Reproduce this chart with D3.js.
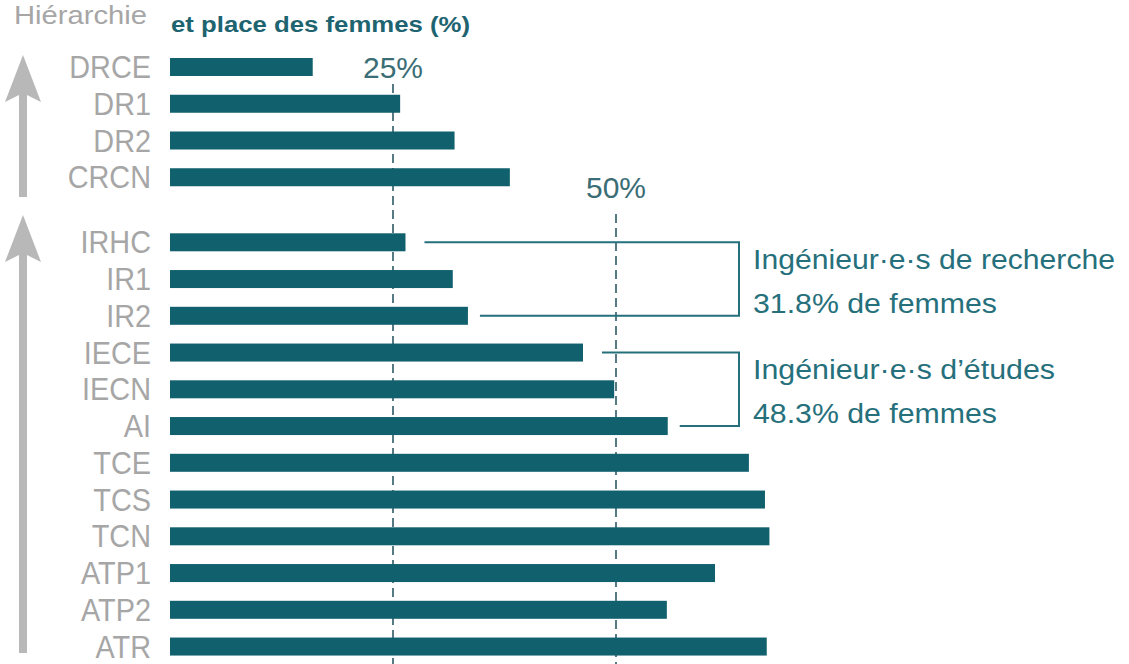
<!DOCTYPE html>
<html>
<head>
<meta charset="utf-8">
<script src="https://cdn.jsdelivr.net/npm/d3@7"></script>
<style>
  body { margin: 0; background: #fff; }
  text { font-family: "Liberation Sans Narrow", "Liberation Sans", Arial, sans-serif; }
</style>
</head>
<body>
<div id="container"></div>
<script>
// categories, du haut vers le bas
const groupeChercheurs = ["DRCE", "DR1", "DR2", "CRCN"];
const groupeITA = ["IRHC", "IR1", "IR2", "IECE", "IECN", "AI",
                   "TCE", "TCS", "TCN", "ATP1", "ATP2", "ATR"];
const valeursChercheurs = [16.0, 25.8, 31.9, 38.1];
const valeursITA = [26.4, 31.7, 33.4, 46.3, 49.8, 55.8,
                    64.9, 66.7, 67.2, 61.1, 55.7, 66.9];
const reperes = [25, 50];
const reperesLabels = ["25%", "50%"];
const annotations = [
  { de: "IRHC", a: "IR2", l1: "Ingénieur·e·s de recherche", l2: "31.8% de femmes" },
  { de: "IECE", a: "AI",  l1: "Ingénieur·e·s d’études",     l2: "48.3% de femmes" }
];

const WIDTH = 1129, HEIGHT = 664;
const TEAL = "#11606e", GRIS = "#a6a6a6", TEXTE = "#26707c";

const data = groupeChercheurs.map((c, i) => ({ cat: c, val: valeursChercheurs[i], idx: i }))
  .concat(groupeITA.map((c, i) => ({ cat: c, val: valeursITA[i], idx: i + 4.77 })));
const byCat = {};
data.forEach(d => byCat[d.cat] = d);

// police un peu condensée comme dans l'original
const condense = (sel, f) => sel.each(function() {
  const L = this.getComputedTextLength();
  d3.select(this).attr("textLength", L * f).attr("lengthAdjust", "spacingAndGlyphs");
});

const svg = d3.select("#container").append("svg")
    .attr("width", WIDTH).attr("height", HEIGHT);

const x = d3.scaleLinear().domain([0, 50]).range([170, 616]);
const y = d3.scaleLinear().domain([0, 1]).range([67, 103.75]);
const barH = 18;

// flèches de hiérarchie
const fleches = [[55, 197], [215, 653]];
fleches.forEach(([haut, bas]) => {
  svg.append("rect").attr("x", 19).attr("y", haut + 30).attr("width", 8).attr("height", bas - haut - 30).attr("fill", "#b8b8b8");
  svg.append("path")
    .attr("d", `M23,${haut} L41,${haut + 47} L23,${haut + 38} L5,${haut + 47} Z`)
    .attr("fill", "#b8b8b8");
});

// lignes de repère
const debutRepere = [84, 214];
svg.selectAll(".repere").data(reperes).join("line")
  .attr("class", "repere")
  .attr("x1", d => x(d)).attr("x2", d => x(d))
  .attr("y1", (d, i) => debutRepere[i]).attr("y2", HEIGHT)
  .attr("stroke", "#2f5a64").attr("stroke-width", 1.6)
  .attr("stroke-dasharray", "9,5");

svg.selectAll(".repereLabel").data(reperes).join("text")
  .attr("class", "repereLabel")
  .attr("x", d => x(d)).attr("y", (d, i) => [78, 198][i])
  .attr("text-anchor", "middle")
  .attr("font-size", 30).attr("fill", "#3a6d75")
  .attr("textLength", 60).attr("lengthAdjust", "spacingAndGlyphs")
  .text((d, i) => reperesLabels[i]);

// barres
svg.selectAll(".bar").data(data).join("rect")
  .attr("class", "bar")
  .attr("x", x(0))
  .attr("y", d => y(d.idx) - barH / 2)
  .attr("width", d => x(d.val) - x(0))
  .attr("height", barH)
  .attr("fill", TEAL);

svg.selectAll(".cat").data(data).join("text")
  .attr("class", "cat")
  .attr("x", 151).attr("y", d => y(d.idx) + 11)
  .attr("text-anchor", "end")
  .attr("font-size", 31).attr("fill", GRIS)
  .text(d => d.cat)
  .call(condense, 0.93);

// titres
svg.append("text").attr("x", 14).attr("y", 24)
  .attr("font-size", 25).attr("fill", GRIS)
  .attr("textLength", 133).attr("lengthAdjust", "spacingAndGlyphs")
  .text("Hiérarchie");
svg.append("text").attr("x", 171).attr("y", 32)
  .attr("font-size", 22).attr("font-weight", "bold").attr("fill", "#1e6470")
  .attr("textLength", 299).attr("lengthAdjust", "spacingAndGlyphs")
  .text("et place des femmes (%)");

// accolades d'annotation
const xAccolade = 739;
const longueurs = [[362, 244], [302, 244]];
annotations.forEach((a, k) => {
  const d1 = byCat[a.de], d2 = byCat[a.a];
  svg.append("path")
    .attr("d", `M${x(d1.val) + 19},${y(d1.idx)} H${xAccolade} V${y(d2.idx)} H${x(d2.val) + 12}`)
    .attr("fill", "none").attr("stroke", TEXTE).attr("stroke-width", 2);
  const ym = (y(d1.idx) + y(d2.idx)) / 2;
  svg.append("text").attr("x", 753).attr("y", ym - 10)
    .attr("font-size", 27).attr("fill", TEXTE)
    .attr("textLength", longueurs[k][0]).attr("lengthAdjust", "spacingAndGlyphs")
    .text(a.l1);
  svg.append("text").attr("x", 753).attr("y", ym + 34)
    .attr("font-size", 27).attr("fill", TEXTE)
    .attr("textLength", longueurs[k][1]).attr("lengthAdjust", "spacingAndGlyphs")
    .text(a.l2);
});
</script>
</body>
</html>
